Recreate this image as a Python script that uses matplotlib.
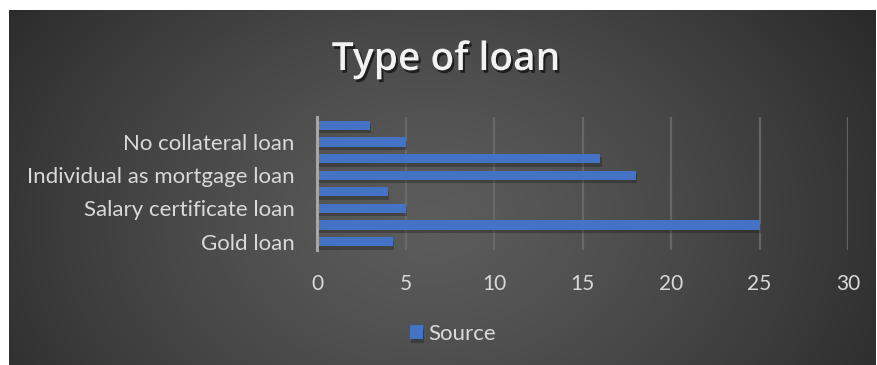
import matplotlib.pyplot as plt
import matplotlib.patheffects as pe
import numpy as np

# data, bottom to top (Excel draws first category at the bottom)
categories = ["Gold loan", "", "Salary certificate loan", "",
              "Individual as mortgage loan", "", "No collateral loan", ""]
values = [4.3, 25, 5, 4, 18, 16, 5, 3]
xticks = [0, 5, 10, 15, 20, 25, 30]
series_name = "Source"

W, H = 877, 365
fig = plt.figure(figsize=(W / 100, H / 100), dpi=100)
fig.patch.set_facecolor("white")
plt.rcParams["font.family"] = ["Lato", "DejaVu Sans"]

# dark radial gradient panel
bg = fig.add_axes([9 / W, 0, (875 - 9) / W, (H - 10) / H])
yy, xx = np.mgrid[0:355, 0:866]
cx, cy = 420, 210
r = np.sqrt(((xx - cx) / 560.0) ** 2 + ((yy - cy) / 420.0) ** 2)
r = np.clip(r, 0, 1)
shade = 0.36 - (0.36 - 0.145) * r ** 1.3
img = np.dstack([shade, shade, shade])
bg.imshow(img, aspect="auto", interpolation="bilinear")
bg.set_axis_off()

# plot area
ax = fig.add_axes([317 / W, (H - 250) / H, 531 / W, 133 / H])
ax.patch.set_alpha(0)
y = np.arange(len(values))
bars = ax.barh(y, values, height=0.55, color="#4472C4", zorder=3, label=series_name)
for b in bars:
    b.set_path_effects([pe.SimplePatchShadow(offset=(1, -2.5), shadow_rgbFace="#1a1a1a", alpha=0.35),
                        pe.Normal()])

ax.set_xlim(0, 30)
ax.set_ylim(-0.5, len(values) - 0.5)
ax.set_xticks(xticks)
ax.set_yticks(y)
ax.set_yticklabels(categories)
ax.grid(axis="x", color="#6e6e6e", linewidth=1.6, alpha=0.8, zorder=0)
for s in ["top", "right", "bottom"]:
    ax.spines[s].set_visible(False)
ax.spines["left"].set_color("#a6a6a6")
ax.spines["left"].set_linewidth(2.2)
ax.spines["left"].set_zorder(4)
ax.tick_params(axis="both", length=0, colors="#d9d9d9")
ax.tick_params(axis="x", pad=17, labelsize=15)
ax.tick_params(axis="y", pad=16, labelsize=16)

fig.text(446 / W, 1 - 60 / H, "Type of loan", ha="center", va="center",
         fontsize=28, fontweight="semibold", color="#f2f2f2", family=["Open Sans", "DejaVu Sans"],
         path_effects=[pe.withSimplePatchShadow(offset=(1.5, -2), shadow_rgbFace="black", alpha=0.6)])

leg = fig.legend(handles=[bars], labels=[series_name], loc="center",
                 bbox_to_anchor=(453 / W, 1 - 334 / H), frameon=False,
                 fontsize=16, handlelength=0.6, handleheight=0.6, handletextpad=0.25,
                 labelcolor="#d9d9d9")

fig.savefig("out.png", dpi=100)
